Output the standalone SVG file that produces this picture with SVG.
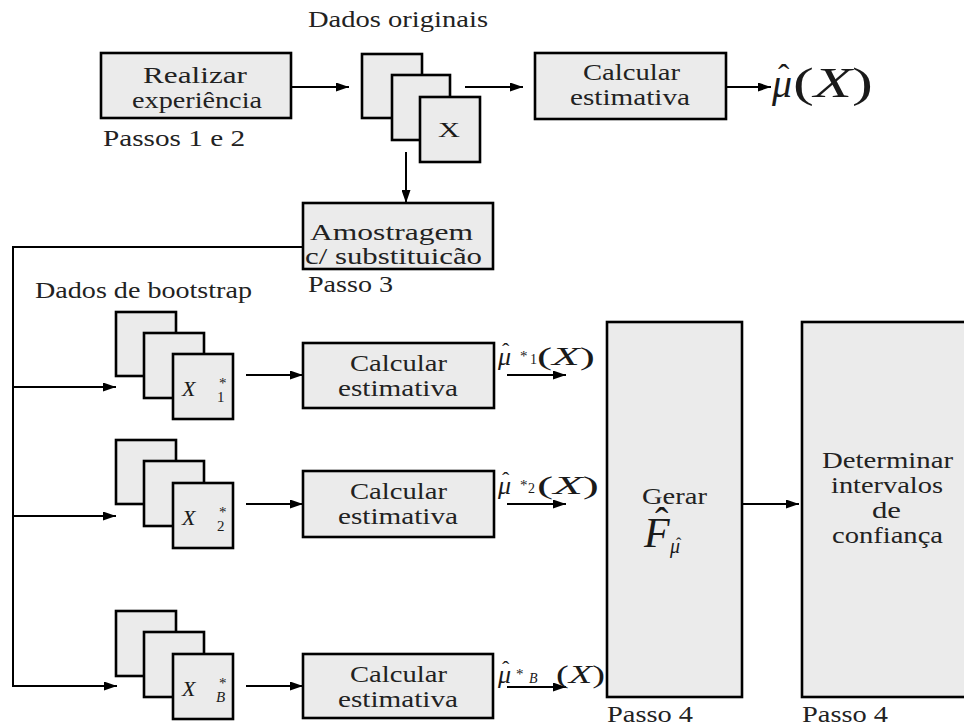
<svg xmlns="http://www.w3.org/2000/svg" width="964" height="727" viewBox="0 0 964 727" font-family="'Liberation Serif', serif">
<defs>
<marker id="ah" markerWidth="13" markerHeight="9" refX="13" refY="4.5" orient="auto" markerUnits="userSpaceOnUse">
<path d="M0,0 L13,4.5 L0,9 z" fill="#000"/>
</marker>
</defs>
<style>
.box{fill:#ebebeb;stroke:#000;stroke-width:2.6}
.t{font-size:23px;fill:#222}
.m{font-style:italic;fill:#1a1a1a}
.u{font-style:normal;fill:#1a1a1a}
.ln{fill:none;stroke:#000;stroke-width:2}
.ar{marker-end:url(#ah)}
</style>
<rect width="964" height="727" fill="#fff"/>

<g id="connectors">
<line class="ln ar" x1="291" y1="87" x2="349" y2="87"/>
<line class="ln ar" x1="465" y1="87" x2="523" y2="87"/>
<line class="ln ar" x1="726" y1="87" x2="771" y2="87"/>
<line class="ln ar" x1="406" y1="152" x2="406" y2="203"/>
<polyline class="ln ar" points="303,247 13,247 13,686 117,686"/>
<line class="ln ar" x1="13" y1="387" x2="116" y2="387"/>
<line class="ln ar" x1="13" y1="516" x2="116" y2="516"/>
<line class="ln ar" x1="246" y1="375" x2="303" y2="375"/>
<line class="ln ar" x1="246" y1="504" x2="303" y2="504"/>
<line class="ln ar" x1="246" y1="686" x2="303" y2="686"/>
<line class="ln ar" x1="507" y1="375" x2="566" y2="375"/>
<line class="ln ar" x1="507" y1="504" x2="566" y2="504"/>
<line class="ln ar" x1="507" y1="687" x2="566" y2="687"/>
<line class="ln ar" x1="742" y1="504" x2="799" y2="504"/>
</g>

<g id="realizar">
<rect class="box" x="101" y="53" width="190" height="65"/>
<text class="t" x="143" y="83" textLength="104" lengthAdjust="spacingAndGlyphs">Realizar</text>
<text class="t" x="132" y="108" textLength="130" lengthAdjust="spacingAndGlyphs">experiência</text>
</g>
<text class="t" x="103" y="146" textLength="142" lengthAdjust="spacingAndGlyphs">Passos 1 e 2</text>

<text class="t" x="308" y="27" textLength="180" lengthAdjust="spacingAndGlyphs">Dados originais</text>
<g id="dados-originais">
<rect class="box" x="362" y="54" width="60" height="64"/>
<rect class="box" x="392" y="75" width="58" height="65"/>
<rect class="box" x="420" y="97" width="60" height="65"/>
<text class="u" x="438" y="137" font-size="20" textLength="22" lengthAdjust="spacingAndGlyphs">X</text>
</g>

<g id="calc-top">
<rect class="box" x="535" y="53" width="191" height="66"/>
<text class="t" x="583" y="80" textLength="97" lengthAdjust="spacingAndGlyphs">Calcular</text>
<text class="t" x="570" y="105" textLength="120" lengthAdjust="spacingAndGlyphs">estimativa</text>
</g>
<g id="mu-hat">
<text class="m" font-size="40"><tspan x="772" y="97">μ</tspan><tspan class="u" x="778" y="88" font-size="34">ˆ</tspan></text>
<text class="u" x="793" y="97" font-size="42" textLength="80" lengthAdjust="spacingAndGlyphs">(<tspan class="m">X</tspan>)</text>
</g>

<g id="amostragem">
<rect class="box" x="303" y="203" width="190" height="66"/>
<text class="t" x="310" y="240" textLength="163" lengthAdjust="spacingAndGlyphs">Amostragem</text>
<text class="t" x="305" y="264" textLength="177" lengthAdjust="spacingAndGlyphs">c/ substituicão</text>
</g>
<text class="t" x="308" y="292" textLength="85" lengthAdjust="spacingAndGlyphs">Passo 3</text>
<text class="t" x="35" y="298" textLength="217" lengthAdjust="spacingAndGlyphs">Dados de bootstrap</text>

<g id="boot-1">
<rect class="box" x="116" y="312" width="60" height="64"/>
<rect class="box" x="144" y="333" width="60" height="65"/>
<rect class="box" x="173" y="354" width="60" height="65"/>
<text class="m" font-size="22"><tspan x="182" y="396">X</tspan><tspan class="u" x="219" y="388" font-size="15">*</tspan><tspan class="u" x="217" y="402" font-size="15">1</tspan></text>
</g>
<g id="boot-2">
<rect class="box" x="116" y="440" width="60" height="64"/>
<rect class="box" x="144" y="461" width="60" height="65"/>
<rect class="box" x="173" y="483" width="60" height="65"/>
<text class="m" font-size="22"><tspan x="182" y="525">X</tspan><tspan class="u" x="219" y="517" font-size="15">*</tspan><tspan class="u" x="217" y="531" font-size="15">2</tspan></text>
</g>
<g id="boot-B">
<rect class="box" x="116" y="611" width="60" height="65"/>
<rect class="box" x="144" y="632" width="60" height="65"/>
<rect class="box" x="173" y="654" width="60" height="65"/>
<text class="m" font-size="22"><tspan x="182" y="696">X</tspan><tspan class="u" x="219" y="688" font-size="15">*</tspan><tspan x="216" y="702" font-size="15">B</tspan></text>
</g>

<g id="calc-1">
<rect class="box" x="303" y="343" width="191" height="65"/>
<text class="t" x="350" y="371" textLength="97" lengthAdjust="spacingAndGlyphs">Calcular</text>
<text class="t" x="338" y="396" textLength="120" lengthAdjust="spacingAndGlyphs">estimativa</text>
</g>
<g id="calc-2">
<rect class="box" x="303" y="471" width="191" height="66"/>
<text class="t" x="350" y="499" textLength="97" lengthAdjust="spacingAndGlyphs">Calcular</text>
<text class="t" x="338" y="524" textLength="120" lengthAdjust="spacingAndGlyphs">estimativa</text>
</g>
<g id="calc-B">
<rect class="box" x="303" y="654" width="190" height="64"/>
<text class="t" x="350" y="682" textLength="97" lengthAdjust="spacingAndGlyphs">Calcular</text>
<text class="t" x="338" y="707" textLength="120" lengthAdjust="spacingAndGlyphs">estimativa</text>
</g>

<g id="label-1">
<text class="m" font-size="26"><tspan x="498" y="365">μ</tspan><tspan class="u" x="502" y="358" font-size="22">ˆ</tspan><tspan class="u" x="520" y="361" font-size="15">*</tspan><tspan class="u" x="530" y="364" font-size="14">1</tspan></text>
<text class="u" x="537" y="365" font-size="26" textLength="58" lengthAdjust="spacingAndGlyphs">(<tspan class="m">X</tspan>)</text>
</g>
<g id="label-2">
<text class="m" font-size="26"><tspan x="498" y="494">μ</tspan><tspan class="u" x="502" y="487" font-size="22">ˆ</tspan><tspan class="u" x="520" y="490" font-size="15">*</tspan><tspan class="u" x="528" y="493" font-size="14">2</tspan></text>
<text class="u" x="537" y="494" font-size="26" textLength="62" lengthAdjust="spacingAndGlyphs">(<tspan class="m">X</tspan>)</text>
</g>
<g id="label-B">
<text class="m" font-size="26"><tspan x="498" y="683">μ</tspan><tspan class="u" x="502" y="676" font-size="22">ˆ</tspan><tspan class="u" x="516" y="679" font-size="15">*</tspan><tspan x="529" y="683" font-size="14">B</tspan></text>
<text class="u" x="556" y="683" font-size="26" textLength="49" lengthAdjust="spacingAndGlyphs">(<tspan class="m">X</tspan>)</text>
</g>

<g id="gerar">
<rect class="box" x="607" y="322" width="135" height="375"/>
<text class="t" x="642" y="504" textLength="65" lengthAdjust="spacingAndGlyphs">Gerar</text>
<text class="m" font-size="42"><tspan x="644" y="547">F</tspan><tspan class="u" x="655" y="535" font-size="40">ˆ</tspan><tspan x="670" y="553" font-size="20">μ</tspan><tspan class="u" x="676" y="549" font-size="16">ˆ</tspan></text>
</g>
<text class="t" x="607" y="722" textLength="86" lengthAdjust="spacingAndGlyphs">Passo 4</text>

<g id="determinar">
<rect class="box" x="802" y="322" width="180" height="375"/>
<text class="t" x="822" y="468" textLength="131" lengthAdjust="spacingAndGlyphs">Determinar</text>
<text class="t" x="831" y="493" textLength="112" lengthAdjust="spacingAndGlyphs">intervalos</text>
<text class="t" x="872" y="518" textLength="29" lengthAdjust="spacingAndGlyphs">de</text>
<text class="t" x="832" y="543" textLength="111" lengthAdjust="spacingAndGlyphs">confiança</text>
</g>
<text class="t" x="802" y="722" textLength="86" lengthAdjust="spacingAndGlyphs">Passo 4</text>
</svg>
